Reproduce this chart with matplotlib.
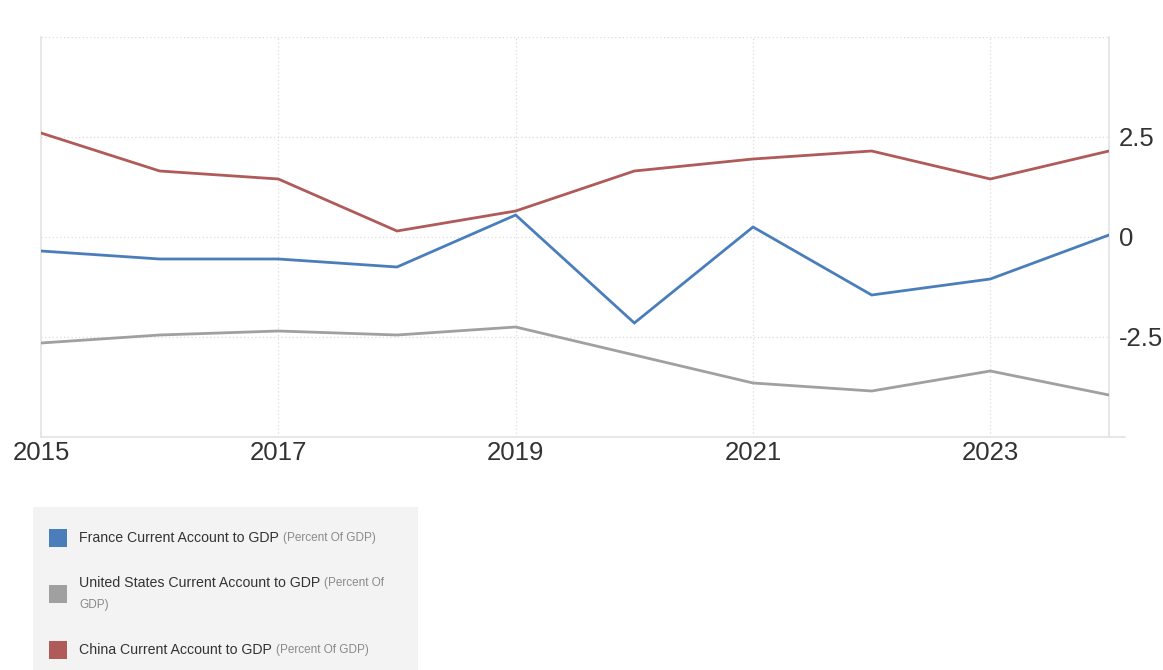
import matplotlib
matplotlib.use("Agg")
import matplotlib.pyplot as plt
from matplotlib.patches import Rectangle

plt.rcParams["font.family"] = ["Liberation Sans", "DejaVu Sans"]

years = [2015, 2016, 2017, 2018, 2019, 2020, 2021, 2022, 2023, 2024]
france = [-0.35, -0.55, -0.55, -0.75, 0.55, -2.15, 0.25, -1.45, -1.05, 0.05]
united_states = [-2.65, -2.45, -2.35, -2.45, -2.25, -2.95, -3.65, -3.85, -3.35, -3.95]
china = [2.6, 1.65, 1.45, 0.15, 0.65, 1.65, 1.95, 2.15, 1.45, 2.15]

series_names = [
    "France Current Account to GDP",
    "United States Current Account to GDP",
    "China Current Account to GDP",
]
series_units = ["(Percent Of GDP)", "(Percent Of GDP)", "(Percent Of GDP)"]
colors = ["#4a7ebb", "#a0a0a0", "#b05a5a"]

x_ticks = [2015, 2017, 2019, 2021, 2023]
y_ticks = [-2.5, 0, 2.5]
y_tick_labels = ["-2.5", "0", "2.5"]

W, H = 1163, 670
fig = plt.figure(figsize=(W / 100, H / 100), dpi=100)
ax = fig.add_axes([41 / W, 1 - 437 / H, (1109 - 41) / W, 400 / H])

for vals, c in zip([france, united_states, china], colors):
    ax.plot(years, vals, color=c, linewidth=2.0, solid_joinstyle="miter", zorder=3)

ax.set_xlim(2015, 2024)
ax.set_ylim(-5, 5)
ax.set_xticks(x_ticks)
ax.set_xticklabels([str(t) for t in x_ticks])
ax.set_yticks(y_ticks)
ax.set_yticklabels(y_tick_labels)
ax.yaxis.tick_right()
ax.tick_params(axis="both", length=0, labelsize=18.5, labelcolor="#333333")
ax.tick_params(axis="x", pad=3)
ax.tick_params(axis="y", pad=7)

# dotted grid, including the top line at 5
for yv in [-2.5, 0, 2.5, 5]:
    ax.axhline(yv, color="#dddddd", linewidth=0.9, linestyle=(0, (1, 2)), zorder=1)
for xv in x_ticks[1:]:
    ax.axvline(xv, color="#dddddd", linewidth=0.9, linestyle=(0, (1, 2)), zorder=1)

ax.spines["top"].set_visible(False)
for side in ["left", "right", "bottom"]:
    ax.spines[side].set_color("#e3e3e3")
    ax.spines[side].set_linewidth(1.2)

# bottom line extends a bit past the right edge
fig.add_artist(plt.Line2D([1109 / W, 1125 / W], [1 - 437 / H, 1 - 437 / H],
                          color="#e3e3e3", linewidth=1.2))

# legend panel
fig.add_artist(Rectangle((33 / W, 0), (418 - 33) / W, 1 - 507 / H,
                         transform=fig.transFigure, facecolor="#f3f3f3",
                         edgecolor="none", zorder=0))

rows = [538, 583, 650]
fig.canvas.draw()
renderer = fig.canvas.get_renderer()
for i, (name, unit, c) in enumerate(zip(series_names, series_units, colors)):
    yc = rows[i]
    sq_y = yc + 11 if i == 1 else yc
    fig.add_artist(Rectangle((49 / W, 1 - (sq_y + 9) / H), 18 / W, 18 / H,
                             transform=fig.transFigure, facecolor=c,
                             edgecolor="none", zorder=2))
    t = fig.text(79 / W, 1 - yc / H, name, fontsize=10.2, color="#333333",
                 va="center", ha="left")
    bb = t.get_window_extent(renderer)
    x_end = bb.x1 / W
    if i == 1:
        fig.text(x_end + 4 / W, 1 - yc / H, "(Percent Of", fontsize=8.5,
                 color="#8a8a8a", va="center", ha="left")
        fig.text(79 / W, 1 - (yc + 22) / H, "GDP)", fontsize=8.5,
                 color="#8a8a8a", va="center", ha="left")
    else:
        fig.text(x_end + 4 / W, 1 - yc / H, unit, fontsize=8.5,
                 color="#8a8a8a", va="center", ha="left")

fig.savefig("out.png", dpi=100)
